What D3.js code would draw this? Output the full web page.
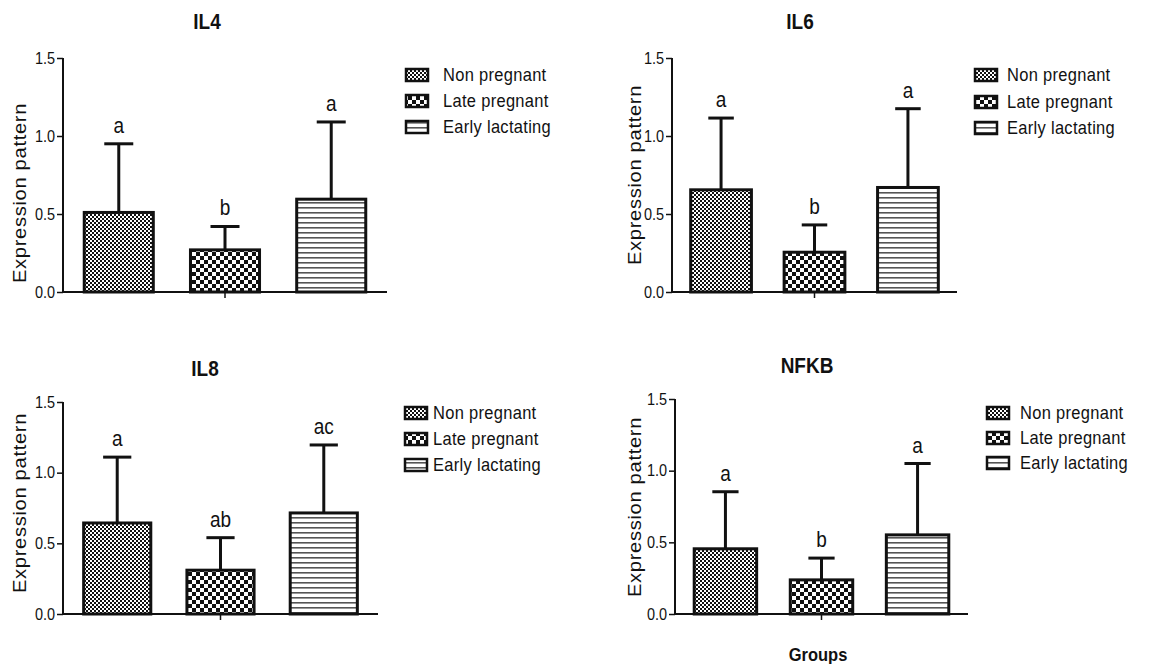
<!DOCTYPE html>
<html><head><meta charset="utf-8">
<script src="https://cdn.jsdelivr.net/npm/d3@7"></script>
<style>
html,body{margin:0;padding:0;background:#fff;}
svg text{font-family:"Liberation Sans",Arial,sans-serif;fill:#111;}
</style></head>
<body>
<svg id="chart" width="1150" height="664"></svg>
<script>
// ---- data ----
const panelNames = ["IL4", "IL6", "IL8", "NFKB"];
const groups = ["Non pregnant", "Late pregnant", "Early lactating"];
const meanIL4 = [0.51, 0.27, 0.595];
const errIL4 = [0.44, 0.15, 0.495];
const meanIL6 = [0.655, 0.255, 0.67];
const errIL6 = [0.46, 0.175, 0.505];
const meanIL8 = [0.644, 0.31, 0.715];
const errIL8 = [0.466, 0.23, 0.481];
const meanNFKB = [0.455, 0.238, 0.552];
const errNFKB = [0.398, 0.152, 0.498];
const lettersIL4 = ["a", "b", "a"];
const lettersIL6 = ["a", "b", "a"];
const lettersIL8 = ["a", "ab", "ac"];
const lettersNFKB = ["a", "b", "a"];
const yTicks = [0.0, 0.5, 1.0, 1.5];
const xAxisTitle = "Groups";
const yAxisTitle = "Expression pattern";

const means = [meanIL4, meanIL6, meanIL8, meanNFKB];
const errs = [errIL4, errIL6, errIL8, errNFKB];
const letters = [lettersIL4, lettersIL6, lettersIL8, lettersNFKB];

// ---- layout ----
const layout = [
  {x0: 63, x1: 387, yT: 58, yB: 292, tx: 207, ty: 29, lx: 20, ly: 193, legX: 406, legY: [75, 101, 127], legT: 443},
  {x0: 672, x1: 957, yT: 58, yB: 292, tx: 800, ty: 29, lx: 635, ly: 175, legX: 975, legY: [75, 102, 128], legT: 1007},
  {x0: 63, x1: 378, yT: 402, yB: 614, tx: 205, ty: 376, lx: 20, ly: 503, legX: 405, legY: [413, 439, 465], legT: 433},
  {x0: 675, x1: 968, yT: 399, yB: 614, tx: 807, ty: 373, lx: 635, ly: 507, legX: 987, legY: [413, 438, 463], legT: 1020}
];
const SY = 1.12; // vertical stretch of text seen in reference

const svg = d3.select("#chart");
const defs = svg.append("defs");

function txt(g, x, y, s, size, opts = {}) {
  const t = g.append("text")
    .attr("transform", `translate(${x},${y}) ${opts.rot ? "rotate(-90) scale(1.12,1)" : `scale(1,${SY})`}`)
    .attr("text-anchor", opts.anchor || "middle")
    .attr("font-size", size)
    .text(s);
  if (opts.bold) t.attr("font-weight", "bold");
  if (opts.ls) t.attr("letter-spacing", opts.ls);
  return t;
}

// fine checker (Non pregnant)
const p1 = defs.append("pattern").attr("id", "pat0").attr("patternUnits", "userSpaceOnUse")
  .attr("width", 4).attr("height", 4);
p1.append("rect").attr("width", 4).attr("height", 4).attr("fill", "#fff");
p1.append("rect").attr("width", 2).attr("height", 2).attr("fill", "#111");
p1.append("rect").attr("x", 2).attr("y", 2).attr("width", 2).attr("height", 2).attr("fill", "#111");
// coarse checker (Late pregnant)
const p2 = defs.append("pattern").attr("id", "pat1").attr("patternUnits", "userSpaceOnUse")
  .attr("width", 8).attr("height", 8);
p2.append("rect").attr("width", 8).attr("height", 8).attr("fill", "#fff");
p2.append("rect").attr("width", 4).attr("height", 4).attr("fill", "#111");
p2.append("rect").attr("x", 4).attr("y", 4).attr("width", 4).attr("height", 4).attr("fill", "#111");
// horizontal lines (Early lactating)
const p3 = defs.append("pattern").attr("id", "pat2").attr("patternUnits", "userSpaceOnUse")
  .attr("width", 8).attr("height", 5);
p3.append("rect").attr("width", 8).attr("height", 5).attr("fill", "#fff");
p3.append("rect").attr("y", 2).attr("width", 8).attr("height", 1.6).attr("fill", "#555");

panelNames.forEach((name, pi) => {
  const L = layout[pi];
  const g = svg.append("g");
  const y = d3.scaleLinear().domain([0, 1.5]).range([L.yB, L.yT]);
  const x = d3.scaleBand().domain(groups).range([L.x0, L.x1]).paddingInner(0.35).paddingOuter(0.2);

  // title
  txt(g, L.tx, L.ty, name, 19, {bold: true});

  // y axis
  const yAx = g.append("g").attr("transform", `translate(${L.x0},0)`)
    .call(d3.axisLeft(y).tickValues(yTicks).tickFormat(d3.format(".1f")).tickSize(6).tickPadding(2));
  yAx.select(".domain").attr("stroke", "#111").attr("stroke-width", 2).attr("d", `M0,${L.yT}V${L.yB}`);
  yAx.selectAll(".tick line").attr("stroke", "#111").attr("stroke-width", 1.5);
  yAx.selectAll(".tick text").attr("font-size", 14.5).attr("fill", "#111")
    .attr("font-family", "'Liberation Sans',Arial,sans-serif")
    .attr("transform", `scale(1,${SY})`)
    .attr("y", function () { return 0; })
    .attr("dy", "0.32em")
    .each(function () {
      const tick = d3.select(this.parentNode);
      const tr = tick.attr("transform");
      const ty = +tr.match(/,([-\d.]+)\)/)[1];
      // move tick group to keep stretch centered
      d3.select(this).attr("transform", `translate(0,${0}) scale(1,${SY})`);
    });

  // y label
  txt(g, L.lx + 6, L.ly, yAxisTitle, 18, {rot: true, ls: 0.6});

  // bars
  groups.forEach((grp, i) => {
    const bx = x(grp), bw = x.bandwidth();
    const top = y(means[pi][i]);
    const cx = bx + bw / 2;
    const etop = y(means[pi][i] + errs[pi][i]);
    g.append("line").attr("x1", cx).attr("x2", cx).attr("y1", top).attr("y2", etop)
      .attr("stroke", "#111").attr("stroke-width", 3);
    g.append("line").attr("x1", cx - bw * 0.21).attr("x2", cx + bw * 0.21).attr("y1", etop).attr("y2", etop)
      .attr("stroke", "#111").attr("stroke-width", 3);
    g.append("rect").attr("x", bx).attr("y", top).attr("width", bw).attr("height", L.yB - top)
      .attr("fill", `url(#pat${i})`).attr("stroke", "#111").attr("stroke-width", 3);
    txt(g, cx, etop - 11, letters[pi][i], 19);
  });

  // x axis line
  g.append("line").attr("x1", L.x0).attr("x2", L.x1).attr("y1", L.yB).attr("y2", L.yB)
    .attr("stroke", "#111").attr("stroke-width", 2);
  const mid = (L.x0 + L.x1) / 2;
  g.append("line").attr("x1", mid).attr("x2", mid).attr("y1", L.yB).attr("y2", L.yB + 6)
    .attr("stroke", "#111").attr("stroke-width", 1.5);

  // legend
  groups.forEach((grp, i) => {
    const cy = L.legY[i];
    g.append("rect").attr("x", L.legX).attr("y", cy - 6).attr("width", 22).attr("height", 12)
      .attr("fill", `url(#pat${i})`).attr("stroke", "#111").attr("stroke-width", 2.5);
    txt(g, L.legT, cy + 6, grp, 16.5, {anchor: "start", ls: 0.3});
  });

  if (pi === 3) {
    txt(g, 818, 661, xAxisTitle, 16.5, {bold: true});
  }
});
</script>
</body></html>
